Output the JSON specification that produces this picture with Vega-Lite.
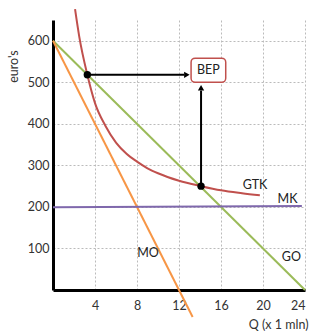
{
  "$schema": "https://vega.github.io/schema/vega-lite/v6.json",
  "width": 252,
  "height": 270,
  "autosize": "none",
  "padding": {"left": 53, "top": 20, "right": 5, "bottom": 44},
  "background": "white",
  "config": {"view": {"stroke": null}, "font": "Lato"},
  "datasets": {
    "curves": [
      {"s": "GO", "q": 0, "v": 600},
      {"s": "GO", "q": 24, "v": 0},
      {"s": "MO", "q": 0, "v": 600},
      {"s": "MO", "q": 13.3, "v": -65},
      {"s": "MK", "q": 0, "v": 199},
      {"s": "MK", "q": 23.7, "v": 202},
      {"s": "GTK", "q": 2.1, "v": 676},
      {"s": "GTK", "q": 2.5, "v": 610},
      {"s": "GTK", "q": 3.27, "v": 518},
      {"s": "GTK", "q": 4, "v": 450},
      {"s": "GTK", "q": 5, "v": 395},
      {"s": "GTK", "q": 6, "v": 355},
      {"s": "GTK", "q": 7, "v": 328},
      {"s": "GTK", "q": 8, "v": 309},
      {"s": "GTK", "q": 9, "v": 293},
      {"s": "GTK", "q": 10, "v": 281},
      {"s": "GTK", "q": 12, "v": 263},
      {"s": "GTK", "q": 14.1, "v": 250},
      {"s": "GTK", "q": 16, "v": 240},
      {"s": "GTK", "q": 18, "v": 233},
      {"s": "GTK", "q": 19.7, "v": 228}
    ],
    "arrows": [
      {"id": "h", "q": 3.27, "v": 518},
      {"id": "h", "q": 12.5, "v": 518},
      {"id": "v", "q": 14.1, "v": 250},
      {"id": "v", "q": 14.1, "v": 480}
    ],
    "labels": [
      {"t": "GTK", "q": 19.24, "v": 252},
      {"t": "MK", "q": 22.33, "v": 220},
      {"t": "GO", "q": 22.7, "v": 79},
      {"t": "MO", "q": 9.05, "v": 90}
    ]
  },
  "layer": [
    {
      "data": {"name": "curves"},
      "mark": {"type": "line", "strokeWidth": 2, "interpolate": "monotone", "clip": false},
      "encoding": {
        "x": {
          "field": "q", "type": "quantitative",
          "scale": {"domain": [0, 24], "nice": false, "zero": false},
          "axis": {
            "title": "Q (x 1 mln)",
            "values": [4, 8, 12, 16, 20, 24],
            "domainColor": "black", "domainWidth": 3,
            "ticks": false, "labelPadding": 9,
            "labelFontSize": 12.5, "labelColor": "#333", "labelFont": "Lato",
            "grid": true, "gridColor": "#bbb", "gridDash": [2, 2], "gridWidth": 1,
            "titleFont": "Lato", "titleFontSize": 12.5, "titleFontWeight": "normal", "titleColor": "#333",
            "titleAlign": "right", "titleAnchor": "end", "titleX": 255, "titleY": 34, "titleBaseline": "middle"
          }
        },
        "y": {
          "field": "v", "type": "quantitative",
          "scale": {"domain": [0, 650], "nice": false, "zero": false},
          "axis": {
            "title": "euro's",
            "values": [100, 200, 300, 400, 500, 600],
            "domainColor": "black", "domainWidth": 3,
            "ticks": false, "labelPadding": 4,
            "labelFontSize": 12.5, "labelColor": "#333", "labelFont": "Lato",
            "grid": true, "gridColor": "#bbb", "gridDash": [2, 2], "gridWidth": 1,
            "titleFont": "Lato", "titleFontSize": 12.5, "titleFontWeight": "normal", "titleColor": "#333",
            "titleAngle": -90, "titleX": -40, "titleY": 46, "titleAlign": "center", "titleBaseline": "middle"
          }
        },
        "color": {
          "field": "s", "type": "nominal",
          "scale": {"domain": ["GO", "MO", "MK", "GTK"], "range": ["#9bbb59", "#f79646", "#7f68ac", "#c0504d"]},
          "legend": null
        },
        "detail": {"field": "s"}
      }
    },
    {
      "data": {"name": "arrows"},
      "mark": {"type": "line", "color": "black", "strokeWidth": 2},
      "encoding": {
        "x": {"field": "q", "type": "quantitative"},
        "y": {"field": "v", "type": "quantitative"},
        "detail": {"field": "id"}
      }
    },
    {
      "data": {"values": [{"q": 12.75, "v": 518}]},
      "mark": {"type": "point", "shape": "triangle-right", "filled": true, "color": "black", "size": 40, "opacity": 1},
      "encoding": {
        "x": {"field": "q", "type": "quantitative"},
        "y": {"field": "v", "type": "quantitative"}
      }
    },
    {
      "data": {"values": [{"q": 14.1, "v": 487}]},
      "mark": {"type": "point", "shape": "triangle-up", "filled": true, "color": "black", "size": 40, "opacity": 1},
      "encoding": {
        "x": {"field": "q", "type": "quantitative"},
        "y": {"field": "v", "type": "quantitative"}
      }
    },
    {
      "data": {"values": [{"q": 3.27, "v": 518}, {"q": 14.1, "v": 250}]},
      "mark": {"type": "circle", "color": "black", "size": 55, "opacity": 1},
      "encoding": {
        "x": {"field": "q", "type": "quantitative"},
        "y": {"field": "v", "type": "quantitative"}
      }
    },
    {
      "data": {"values": [{"q": 13.15, "q2": 16.45, "v": 500, "v2": 558}]},
      "mark": {"type": "rect", "fill": "white", "stroke": "#c0504d", "strokeWidth": 1.5, "cornerRadius": 4},
      "encoding": {
        "x": {"field": "q", "type": "quantitative"},
        "x2": {"field": "q2"},
        "y": {"field": "v", "type": "quantitative"},
        "y2": {"field": "v2"}
      }
    },
    {
      "data": {"values": [{"t": "BEP", "q": 14.8, "v": 529}]},
      "mark": {"type": "text", "font": "Lato", "fontSize": 12.5, "color": "#222", "align": "center", "baseline": "middle"},
      "encoding": {
        "x": {"field": "q", "type": "quantitative"},
        "y": {"field": "v", "type": "quantitative"},
        "text": {"field": "t"}
      }
    },
    {
      "data": {"name": "labels"},
      "mark": {"type": "text", "font": "Lato", "fontSize": 12.5, "color": "#222", "align": "center", "baseline": "middle"},
      "encoding": {
        "x": {"field": "q", "type": "quantitative"},
        "y": {"field": "v", "type": "quantitative"},
        "text": {"field": "t"}
      }
    }
  ]
}
